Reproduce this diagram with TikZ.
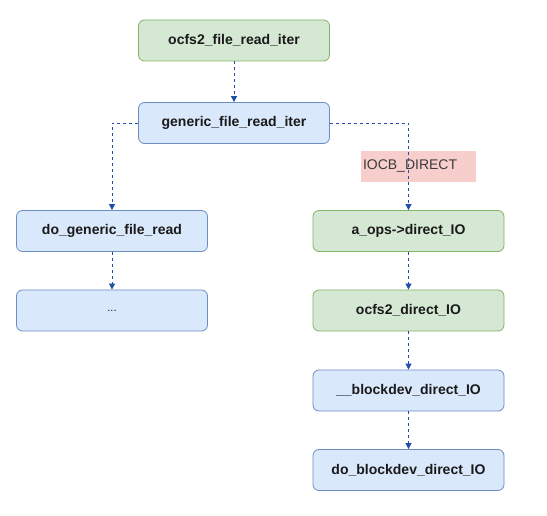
\documentclass[tikz,border=0pt]{standalone}
\usepackage{fontspec}
\setmainfont{Liberation Sans}
\usetikzlibrary{arrows.meta}
\definecolor{gfill}{HTML}{D5E8D4}
\definecolor{gdraw}{HTML}{82B366}
\definecolor{bfill}{HTML}{DAE8FC}
\definecolor{bdraw}{HTML}{6C8EBF}
\definecolor{pfill}{HTML}{F8CECC}
\definecolor{arr}{HTML}{1F4FA8}
\definecolor{txt}{HTML}{1A1A1A}
\begin{document}
\begin{tikzpicture}[x=1pt,y=-1pt,
  box/.style={rounded corners=6pt, minimum width=191pt, minimum height=41pt, inner sep=0pt,
    font=\fontsize{14pt}{16pt}\selectfont\bfseries, text=txt, line width=0.8pt},
  gbox/.style={box, fill=gfill, draw=gdraw},
  bbox/.style={box, fill=bfill, draw=bdraw},
  conn/.style={draw=arr, dashed, dash pattern=on 3pt off 3pt, line width=0.8pt,
    -{Triangle[length=6pt,width=6pt]}, arr},
  lbl/.style={fill=pfill, minimum width=115pt, minimum height=31pt, inner sep=2pt,
    text width=111pt, align=left, font=\fontsize{14pt}{16pt}\selectfont, text=txt!85}
]
\useasboundingbox (0,0) rectangle (547,516);
\node[gbox] (a) at (234,40.5) {ocfs2\_file\_read\_iter};
\node[bbox] (b) at (234,123) {generic\_file\_read\_iter};
\node[bbox] (c) at (112,231) {do\_generic\_file\_read};
\node[bbox] (d) at (112,310.5) {\mdseries\fontsize{11pt}{12pt}\selectfont ...};
\node[gbox] (e) at (408.5,231) {a\_ops->direct\_IO};
\node[gbox] (f) at (408.5,310.5) {ocfs2\_direct\_IO};
\node[bbox] (g) at (408.5,390.5) {\_\_blockdev\_direct\_IO};
\node[bbox] (h) at (408.5,470) {do\_blockdev\_direct\_IO};
\node[lbl] (l) at (418.5,166.5) {IOCB\_DIRECT};
\draw[conn] (a) -- (b);
\draw[conn] (b.west) -| (c.north);
\draw[conn] (b.east) -| (e.north);
\draw[conn] (c) -- (d);
\draw[conn] (e) -- (f);
\draw[conn] (f) -- (g);
\draw[conn] (g) -- (h);
\end{tikzpicture}
\end{document}
